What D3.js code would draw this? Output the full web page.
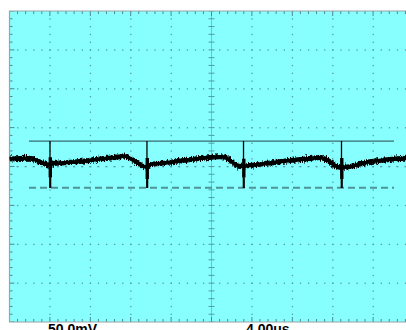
<!DOCTYPE html>
<html>
<head>
<meta charset="utf-8">
<script src="https://cdn.jsdelivr.net/npm/d3@7"></script>
<style>
  html, body { margin: 0; padding: 0; background: #ffffff; }
  svg { display: block; }
</style>
</head>
<body>
<svg id="scope" width="406" height="330"></svg>
<script>
// Scope settings
const timePerDivUs = 4;      // 4.00us / div
const voltPerDivMv = 50;     // 50.0mV / div
const hDivs = 10, vDivs = 8;
const scaleLabels = ["50.0mV", "4.00us"];

// Channel trace (time in us, level in mV), without the switching spikes
const traceUs = [0, 1.04, 2.03, 2.82, 3.71, 4.01, 4.31, 4.70, 6.98, 8.96, 10.94, 11.34, 11.93, 12.72, 13.42, 13.61,
  14.11, 14.90, 16.88, 18.86, 20.84, 21.24, 22.03, 22.82, 23.17, 23.81, 25.79, 27.77, 29.75, 30.74, 31.44,
  32.43, 32.87, 33.42, 35.69, 37.67, 39.26, 40];
const traceMv = [9.6, 10.3, 10.5, 7.1, 2.6, 1.5, 3.9, 4.1, 6.4, 9.6, 12.6, 13.5, 10.3, 4.5, -0.3, 0.5,
  3.2, 3.9, 7.1, 10.3, 12.6, 12.2, 5.8, 0.0, 0.5, 1.3, 4.5, 7.7, 10.3, 11.6, 8.4,
  0.0, -1.0, -0.6, 6.2, 9.0, 10.5, 11.0];

// Switching spikes
const spikeUs = [4.01, 13.61, 23.17, 32.87];
const spikeHighMv = [32.8, 32.8, 32.8, 32.8];
const spikeLowMv = [-27.7, -27.7, -27.7, -27.7];
const ringHighMv = [12, 11, 10, 11];
const ringLowMv = [-14, -16, -14, -16];

// Cursors
const cursorUs = [1.93, 38.07];
const cursorHighMv = 32.6;
const cursorLowMv = -27.4;

const gLeft = 9.5, gTop = 11, pitchX = 40.4, gBottom = 322;
const gRight = gLeft + hDivs * pitchX;

const x = d3.scaleLinear().domain([0, hDivs * timePerDivUs]).range([gLeft, gRight]);
const y = d3.scaleLinear().domain([-vDivs / 2 * voltPerDivMv, vDivs / 2 * voltPerDivMv]).range([gBottom, gTop]);

const svg = d3.select("#scope");
const defs = svg.append("defs");
const fuzz = defs.append("filter").attr("id", "fuzz")
  .attr("filterUnits", "userSpaceOnUse").attr("x", 0).attr("y", 0).attr("width", 406).attr("height", 330);
fuzz.append("feTurbulence").attr("type", "fractalNoise").attr("baseFrequency", "1.1 0.3")
  .attr("numOctaves", 2).attr("seed", 7).attr("result", "n");
fuzz.append("feDisplacementMap").attr("in", "SourceGraphic").attr("in2", "n")
  .attr("scale", 6).attr("xChannelSelector", "R").attr("yChannelSelector", "G");

const clip = defs.append("clipPath").attr("id", "screen");
clip.append("rect").attr("x", gLeft).attr("y", gTop).attr("width", gRight - gLeft).attr("height", gBottom - gTop);

// Screen background
svg.append("rect").attr("x", gLeft).attr("y", gTop).attr("width", 406 - gLeft).attr("height", gBottom - gTop)
  .attr("fill", "#88ffff");

const grid = svg.append("g").attr("clip-path", "url(#screen)");
const dotColor = "#4f9ea4";

// Dotted graticule: dots every fifth of a division
const stepsX = d3.range(0, hDivs * 5 + 1);
const stepsY = d3.range(0, vDivs * 5 + 1);
const tUnit = timePerDivUs / 5, vUnit = voltPerDivMv / 5;
const vMin = -vDivs / 2 * voltPerDivMv;
for (let i = 1; i < vDivs; i++) {
  if (i === vDivs / 2) continue;
  const vy = vMin + i * voltPerDivMv;
  grid.selectAll(null).data(stepsX).join("rect")
    .attr("x", d => x(d * tUnit) - 0.5).attr("y", y(vy) - 0.5)
    .attr("width", 1.3).attr("height", 1.3).attr("fill", dotColor);
}
for (let i = 1; i < hDivs; i++) {
  if (i === hDivs / 2) continue;
  grid.selectAll(null).data(stepsY).join("rect")
    .attr("x", x(i * timePerDivUs) - 0.5).attr("y", d => y(vMin + d * vUnit) - 0.5)
    .attr("width", 1.3).attr("height", 1.3).attr("fill", dotColor);
}

// Centre axes with minor ticks
const cx = x(hDivs / 2 * timePerDivUs), cy = y(0);
grid.append("line").attr("x1", cx).attr("x2", cx).attr("y1", gTop).attr("y2", gBottom)
  .attr("stroke", "#6cc4c8").attr("stroke-width", 1);
grid.selectAll(null).data(stepsY).join("line")
  .attr("x1", cx - 3).attr("x2", cx + 3)
  .attr("y1", d => y(vMin + d * vUnit)).attr("y2", d => y(vMin + d * vUnit))
  .attr("stroke", dotColor).attr("stroke-width", 1);
grid.selectAll(null).data(stepsX).join("rect")
  .attr("x", d => x(d * tUnit) - 1).attr("y", cy - 0.5)
  .attr("width", 2).attr("height", 1.3).attr("fill", dotColor);

// Edge ticks
grid.selectAll(null).data(stepsX).join("line")
  .attr("x1", d => x(d * tUnit)).attr("x2", d => x(d * tUnit))
  .attr("y1", gTop).attr("y2", d => gTop + (d % 5 === 0 ? 5 : 3))
  .attr("stroke", "#4a8a90").attr("stroke-width", 1);
grid.selectAll(null).data(stepsX).join("line")
  .attr("x1", d => x(d * tUnit)).attr("x2", d => x(d * tUnit))
  .attr("y1", gBottom).attr("y2", d => gBottom - (d % 5 === 0 ? 5 : 3))
  .attr("stroke", "#4a8a90").attr("stroke-width", 1);
grid.selectAll(null).data(stepsY).join("line")
  .attr("x1", gLeft).attr("x2", d => gLeft + (d % 5 === 0 ? 5 : 3))
  .attr("y1", d => y(vMin + d * vUnit)).attr("y2", d => y(vMin + d * vUnit))
  .attr("stroke", "#4a8a90").attr("stroke-width", 1);

// Screen border
svg.append("path")
  .attr("d", `M406,${gTop}H${gLeft}V${gBottom}H406`)
  .attr("fill", "none").attr("stroke", "#9aa4a4").attr("stroke-width", 1.2);

// Cursors
svg.append("line")
  .attr("x1", x(cursorUs[0])).attr("x2", x(cursorUs[1]))
  .attr("y1", y(cursorHighMv)).attr("y2", y(cursorHighMv))
  .attr("stroke", "#3b6a6c").attr("stroke-width", 1.2);
svg.append("line")
  .attr("x1", x(cursorUs[0])).attr("x2", x(cursorUs[1]))
  .attr("y1", y(cursorLowMv)).attr("y2", y(cursorLowMv))
  .attr("stroke", "#4e9496").attr("stroke-width", 2).attr("stroke-dasharray", "7,4");

// Trace
const plot = svg.append("g").attr("clip-path", "url(#screen)");
const line = d3.line().x((d, i) => x(traceUs[i])).y((d, i) => y(traceMv[i])).curve(d3.curveMonotoneX);
plot.append("path").datum(traceMv).attr("d", line)
  .attr("fill", "none").attr("stroke", "#000").attr("stroke-width", 5)
  .attr("stroke-linejoin", "round").attr("filter", "url(#fuzz)");
plot.append("path").datum(traceMv).attr("d", line)
  .attr("fill", "none").attr("stroke", "#000").attr("stroke-width", 3.6)
  .attr("stroke-linejoin", "round");

// Spikes
plot.selectAll(null).data(spikeUs).join("line")
  .attr("x1", d => x(d)).attr("x2", d => x(d))
  .attr("y1", (d, i) => y(spikeHighMv[i])).attr("y2", (d, i) => y(spikeLowMv[i]))
  .attr("stroke", "#000").attr("stroke-width", 1.3);
plot.selectAll(null).data(spikeUs).join("line")
  .attr("x1", d => x(d) + 0.3).attr("x2", d => x(d) + 0.3)
  .attr("y1", (d, i) => y(ringHighMv[i])).attr("y2", (d, i) => y(ringLowMv[i]))
  .attr("stroke", "#000").attr("stroke-width", 3.4);
plot.selectAll(null).data(spikeUs).join("line")
  .attr("x1", d => x(d) + 0.3).attr("x2", d => x(d) + 0.3)
  .attr("y1", (d, i) => y(ringLowMv[i])).attr("y2", (d, i) => y(spikeLowMv[i]))
  .attr("stroke", "#000").attr("stroke-width", 2);

// Scale readouts (partly below the visible area)
svg.selectAll("text.readout").data(scaleLabels).join("text")
  .attr("class", "readout")
  .attr("x", (d, i) => i === 0 ? 48 : 246)
  .attr("y", 333.5)
  .attr("font-family", "Liberation Sans, Arial, sans-serif")
  .attr("font-weight", "bold").attr("font-size", 14)
  .attr("fill", "#000")
  .text(d => d);
</script>
</body>
</html>
